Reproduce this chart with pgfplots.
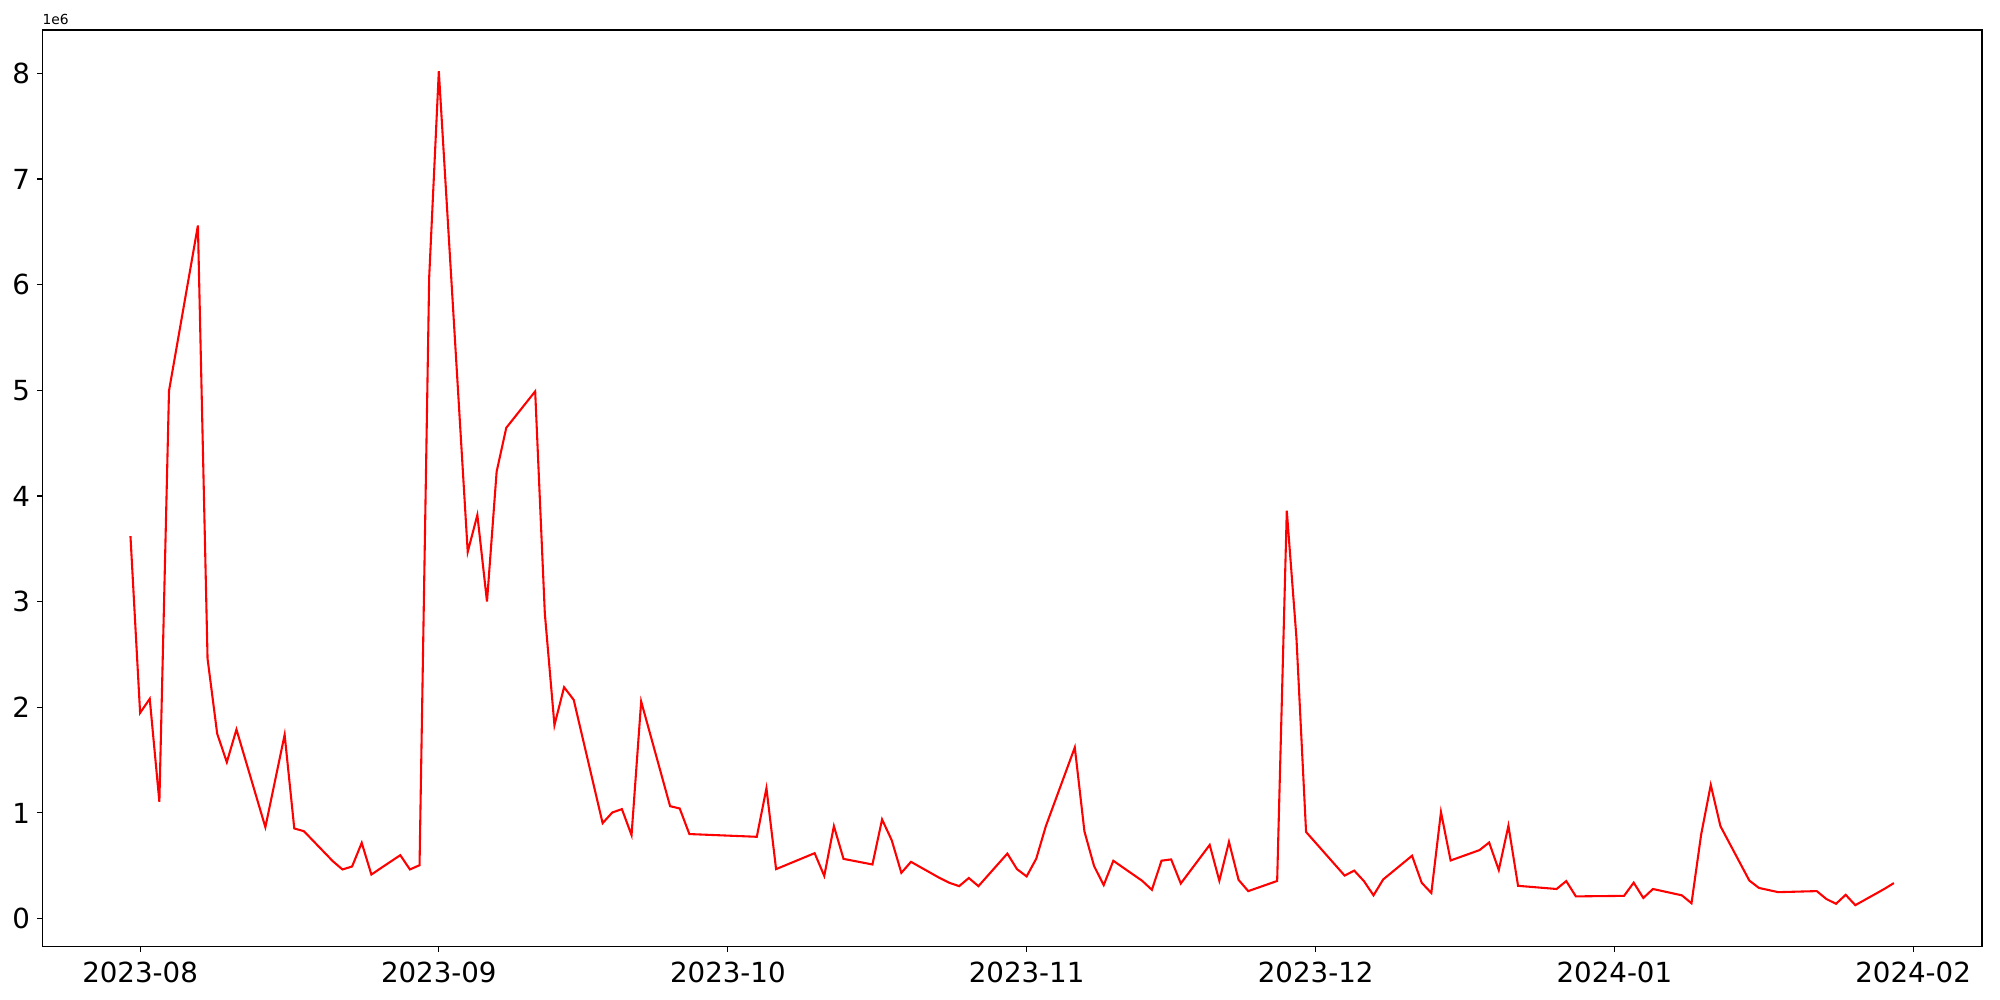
\documentclass[border=0pt]{standalone}
\usepackage{fontspec}
\setmainfont{DejaVu Sans}
\usepackage{pgfplots}
\pgfplotsset{compat=1.18}

% daily values, x = days since 2023-08-01, y in units of 1e6
\begin{document}
\begin{tikzpicture}
\begin{axis}[
  name=ax,
  scale only axis,
  width=1402pt, height=662.7pt,
  xmin=-10.15, xmax=191.15,
  ymin=-0.268, ymax=8.41,
  xtick={0,31,61,92,122,153,184},
  xticklabels={2023-08,2023-09,2023-10,2023-11,2023-12,2024-01,2024-02},
  ytick={0,1,2,3,4,5,6,7,8},
  tick align=outside, tick pos=left,
  major tick length=3.5bp,
  tick style={black, line width=0.8bp},
  axis line style={black, line width=0.8bp},
  ticklabel style={font=\fontsize{20}{24}\selectfont, inner sep=0pt},
  xticklabel style={yshift=-7.2pt},
  yticklabel style={xshift=-5.2pt},
  /pgf/number format/assume math mode=true,
]
\addplot[color=red, line width=1.5bp, mark=none] coordinates {
(-1,3.62) (0,1.947) (1,2.08) (2,1.105) (3,4.995) (6,6.56) (7,2.46) (8,1.75)
(9,1.48) (10,1.79) (13,0.865) (15,1.74) (16,0.853) (17,0.827) (20,0.543)
(21,0.465) (22,0.493) (23,0.717) (24,0.417) (27,0.60) (28,0.465) (29,0.505)
(30,6.07) (31,8.02) (34,3.47) (35,3.82) (36,3.0) (37,4.23) (38,4.645)
(41,4.99) (42,2.89) (43,1.83) (44,2.19) (45,2.07) (48,0.903) (49,1.004)
(50,1.036) (51,0.79) (52,2.055) (55,1.064) (56,1.042) (57,0.80) (64,0.774)
(65,1.234) (66,0.468) (70,0.619) (71,0.404) (72,0.875) (73,0.565) (76,0.512)
(77,0.938) (78,0.742) (79,0.433) (80,0.537) (83,0.383) (84,0.338) (85,0.307)
(86,0.384) (87,0.307) (90,0.615) (91,0.468) (92,0.399) (93,0.567) (94,0.876)
(97,1.62) (98,0.825) (99,0.497) (100,0.317) (101,0.547) (104,0.357)
(105,0.272) (106,0.548) (107,0.56) (108,0.332) (111,0.697) (112,0.358)
(113,0.726) (114,0.366) (115,0.26) (118,0.356) (119,3.86) (120,2.66)
(121,0.82) (125,0.407) (126,0.454) (127,0.355) (128,0.22) (129,0.37)
(132,0.595) (133,0.339) (134,0.242) (135,1.008) (136,0.55) (139,0.648)
(140,0.72) (141,0.459) (142,0.879) (143,0.31) (147,0.28) (148,0.355)
(149,0.21) (154,0.215) (155,0.34) (156,0.195) (157,0.28) (160,0.22)
(161,0.145) (162,0.795) (163,1.265) (164,0.875) (167,0.36) (168,0.29)
(170,0.25) (174,0.26) (175,0.185) (176,0.14) (177,0.225) (178,0.127)
(181,0.28) (182,0.336)
};
\end{axis}
\node[anchor=south west, inner sep=0pt, font=\fontsize{10}{12}\selectfont]
  at ([yshift=3.3pt]ax.north west) {1e6};
\pgfresetboundingbox
\path[use as bounding box] ([xshift=-30.57pt,yshift=-38.3pt]ax.south west)
  rectangle ([xshift=13pt,yshift=21.7pt]ax.north east);
\end{tikzpicture}
\end{document}
